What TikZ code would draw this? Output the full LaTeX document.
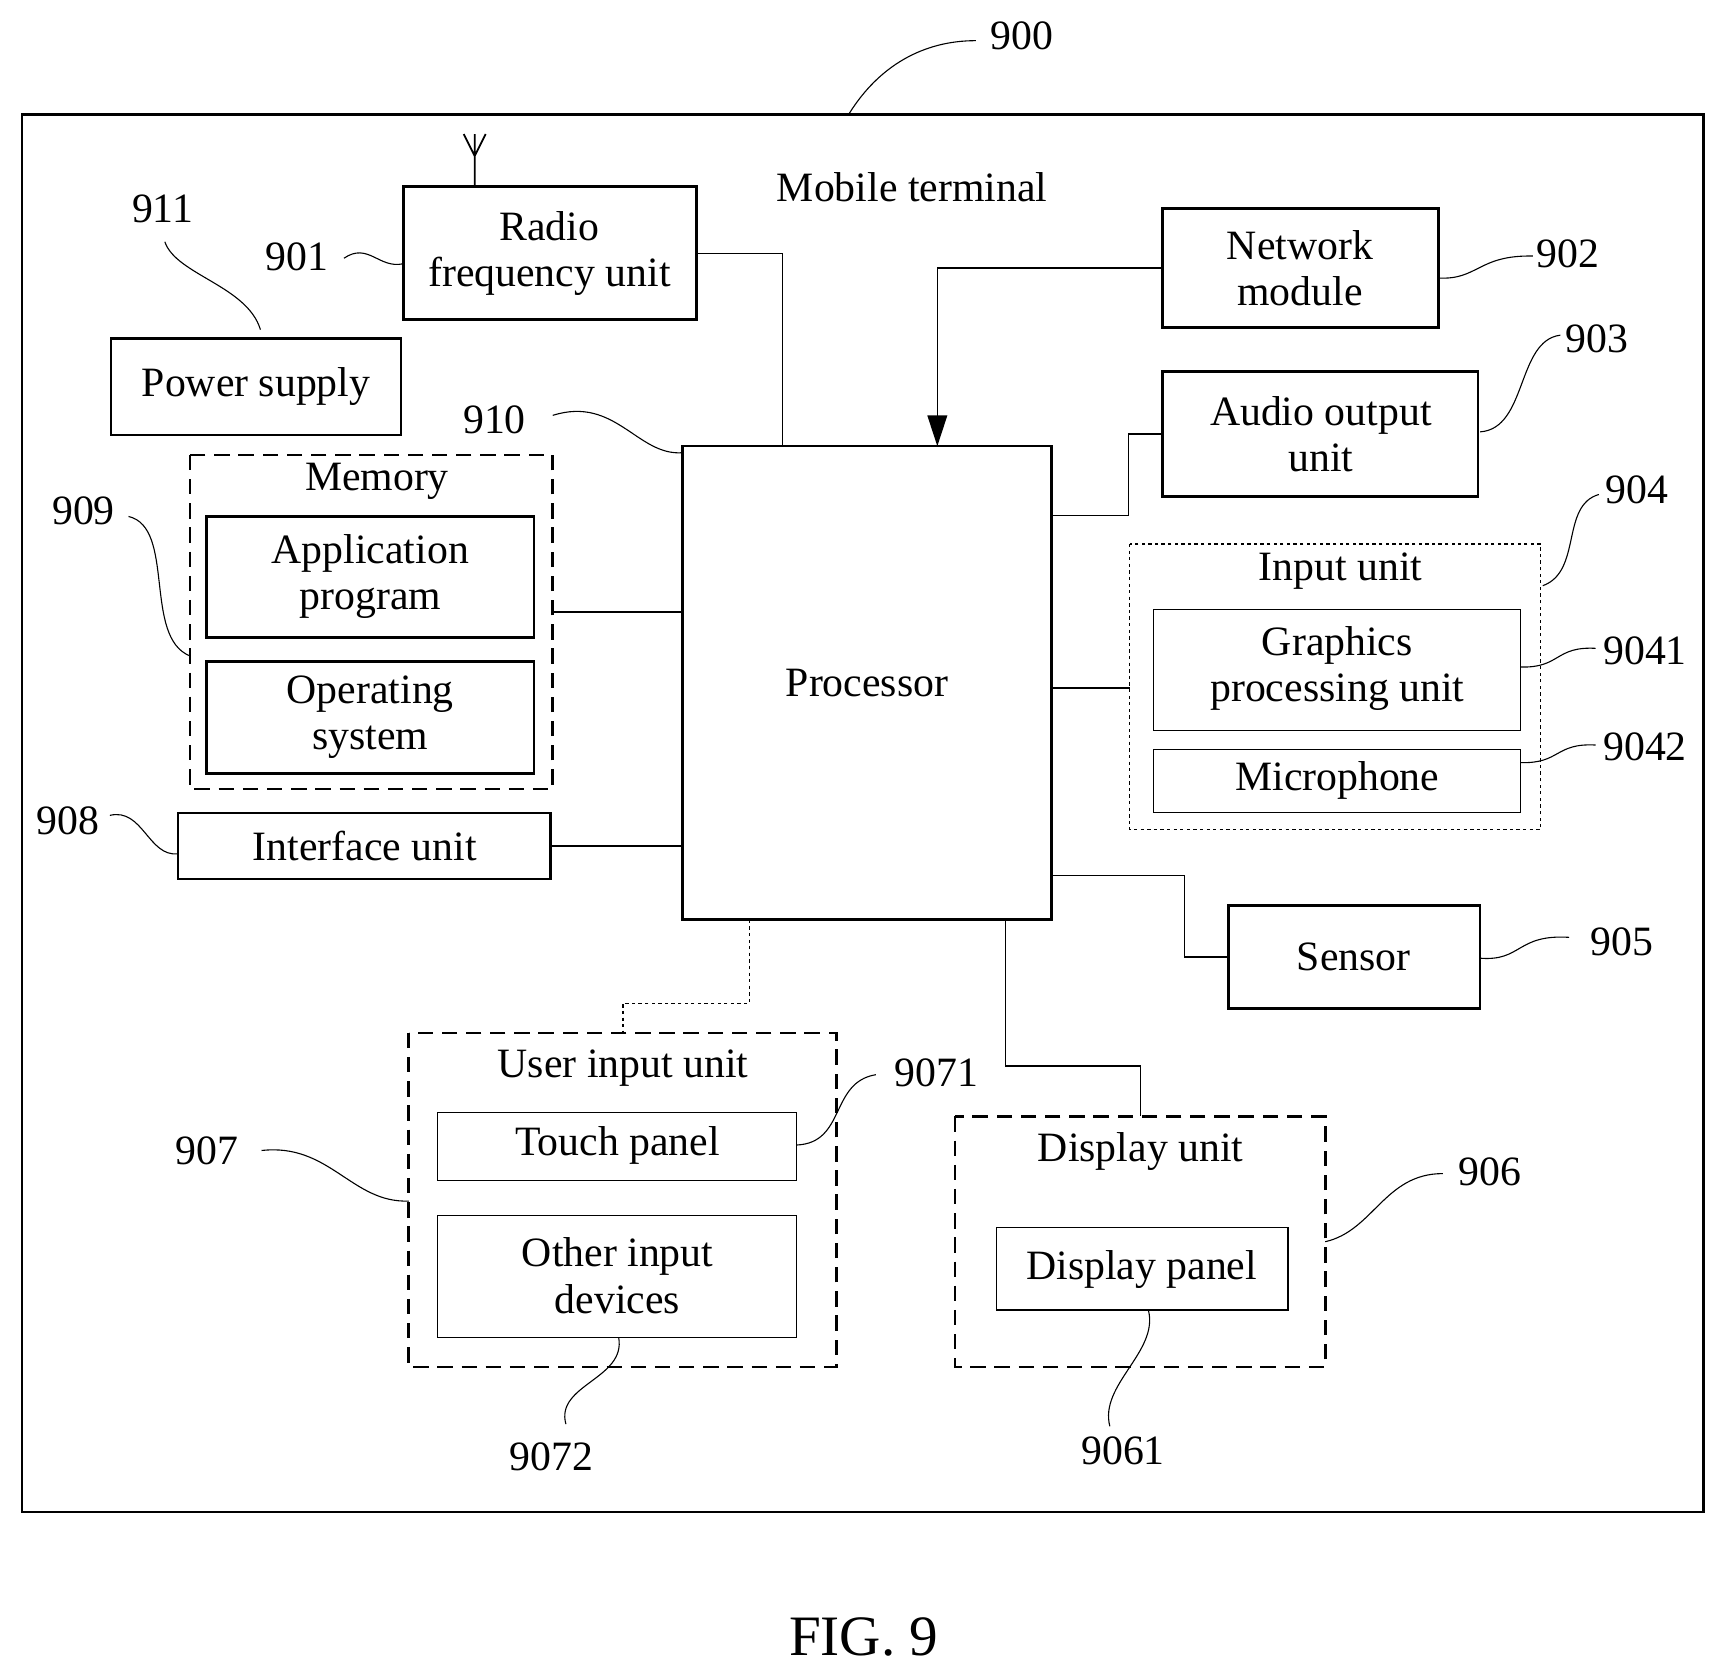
\documentclass[tikz,border=0pt]{standalone}
\usepackage{fontspec}
\setmainfont{Liberation Serif}
\usetikzlibrary{arrows.meta}
\begin{document}
\begin{tikzpicture}[x=0.5pt,y=-0.5pt,
  thinbox/.style={draw,line width=0.5pt},
  dashbox/.style={draw,line width=1.2pt,dash pattern=on 7pt off 4pt},
  dotbox/.style={draw,line width=0.6pt,dash pattern=on 1.5pt off 1.5pt},
  lbl/.style={font=\fontsize{19}{23}\selectfont,inner sep=0pt},
  txt/.style={font=\fontsize{19}{23}\selectfont,align=center,inner sep=0pt},
  lead/.style={line width=0.5pt},
  wire/.style={line width=0.6pt}]
\useasboundingbox (0,0) rectangle (1568,1526);
\draw[line width=1.2pt] (20,104) rectangle (1550,1376);
% 900
\node[lbl] (l900) at (930,33) {900};
\draw[lead] (773,103) .. controls (800,60) and (840,37) .. (888,37);
\node[txt] (mt) at (830,170) {Mobile terminal};
% RF
\draw[line width=1.2pt] (367,170) rectangle (634,291);
\node[txt] (rf) at (500,231) {Radio\\[-2pt]frequency unit};
\draw[line width=0.8pt] (432,170) -- (432,122) (432,142) -- (422,122) (432,142) -- (442,122);
\node[lbl] (l901) at (270,234) {901};
\draw[lead] (313,235) .. controls (335,220) and (345,245) .. (367,240);
\node[lbl] (l911) at (148,190) {911};
\draw[lead] (150,220) .. controls (160,250) and (225,260) .. (237,300);
% Power
\draw[line width=1.2pt] (101,308) rectangle (365,396);
\node[txt] (ps) at (233,352) {Power supply};
% processor
\draw[line width=1.2pt] (621,406) rectangle (957,837);
\node[txt] (proc) at (789,622) {Processor};
\node[lbl] (l910) at (450,382) {910};
\draw[lead] (503,378) .. controls (560,360) and (580,415) .. (621,412);
% memory
\draw[dashbox] (173,414) rectangle (503,718);
\node[txt] (mem) at (343,438) {Memory};
\draw[line width=1.2pt] (188,470) rectangle (486,580);
\node[txt] (app) at (337,525) {Application\\[-2pt]program};
\draw[line width=1.2pt] (188,602) rectangle (486,704);
\node[txt] (os) at (337,653) {Operating\\[-2pt]system};
\node[lbl] (l909) at (76,465) {909};
\draw[lead] (117,470) .. controls (160,480) and (130,580) .. (173,597);
% interface
\draw[line width=1.2pt] (162,740) rectangle (501,800);
\node[txt] (iu) at (332,770) {Interface unit};
\node[lbl] (l908) at (62,747) {908};
\draw[lead] (100,742) .. controls (130,735) and (135,780) .. (162,777);
% wires left
\draw[wire] (634,231) -- (712,231) -- (712,406);
\draw[line width=1.2pt] (503,557) -- (621,557);
\draw[wire] (501,770) -- (621,770);
% network
\draw[line width=1.2pt] (1058,190) rectangle (1309,298);
\node[txt] (nm) at (1183,244) {Network\\[-2pt]module};
\draw[wire,-{Triangle[length=14pt,width=9pt]}] (1058,244) -- (853,244) -- (853,406);
\node[lbl] (l902) at (1427,231) {902};
\draw[lead] (1309,253) .. controls (1345,255) and (1345,232) .. (1395,233);
% audio
\draw[line width=1.2pt] (1058,338) rectangle (1345,452);
\node[txt] (ao) at (1202,395) {Audio output\\[-2pt]unit};
\draw[wire] (957,469) -- (1027,469) -- (1027,395) -- (1058,395);
\node[lbl] (l903) at (1453,308) {903};
\draw[lead] (1347,393) .. controls (1390,390) and (1380,310) .. (1420,305);
% input unit
\draw[dotbox] (1028,495) rectangle (1402,755);
\node[txt] (in) at (1220,520) {Input unit};
\draw[thinbox] (1050,555) rectangle (1384,665);
\node[txt] (gpu) at (1217,608) {Graphics\\[-2pt]processing unit};
\draw[thinbox] (1050,682) rectangle (1384,739);
\node[txt] (mic) at (1217,710) {Microphone};
\draw[wire] (957,626) -- (1028,626);
\node[lbl] (l904) at (1490,446) {904};
\draw[lead] (1404,533) .. controls (1440,520) and (1420,460) .. (1455,450);
\node[lbl] (l9041) at (1497,592) {9041};
\draw[lead] (1384,607) .. controls (1420,608) and (1415,588) .. (1452,590);
\node[lbl] (l9042) at (1497,680) {9042};
\draw[lead] (1384,694) .. controls (1420,695) and (1415,676) .. (1452,678);
% sensor
\draw[line width=1.2pt] (1118,824) rectangle (1347,918);
\node[txt] (sen) at (1232,871) {Sensor};
\draw[wire] (957,797) -- (1078,797) -- (1078,871) -- (1118,871);
\node[lbl] (l905) at (1476,857) {905};
\draw[lead] (1347,872) .. controls (1385,875) and (1380,850) .. (1428,853);
% display unit
\draw[dashbox] (869,1016) rectangle (1206,1244);
\node[txt] (du) at (1038,1048) {Display unit};
\draw[wire] (907,1117) rectangle (1172,1192);
\node[txt] (dp) at (1039,1155) {Display panel};
\draw[wire] (915,837) -- (915,970) -- (1038,970) -- (1038,1016);
\node[lbl] (l906) at (1356,1066) {906};
\draw[lead] (1206,1130) .. controls (1250,1120) and (1260,1068) .. (1313,1068);
\node[lbl] (l9061) at (1022,1320) {9061};
\draw[lead] (1045,1192) .. controls (1055,1230) and (1000,1260) .. (1010,1298);
% user input
\draw[dashbox] (372,940) rectangle (761,1244);
\node[txt] (ui) at (567,972) {User input unit};
\draw[thinbox] (398,1012) rectangle (725,1074);
\node[txt] (tp) at (562,1042) {Touch panel};
\draw[thinbox] (398,1106) rectangle (725,1217);
\node[txt] (oid) at (562,1161) {Other input\\[-2pt]devices};
\draw[dotbox] (682,837) -- (682,913) -- (567,913) -- (567,940);
\node[lbl] (l9071) at (852,976) {9071};
\draw[lead] (725,1042) .. controls (770,1040) and (755,985) .. (797,978);
\node[lbl] (l907) at (188,1047) {907};
\draw[lead] (238,1047) .. controls (300,1040) and (320,1095) .. (372,1093);
\node[lbl] (l9072) at (502,1326) {9072};
\draw[lead] (563,1217) .. controls (570,1255) and (505,1260) .. (515,1296);
\node[font=\fontsize{26}{30}\selectfont] (fig) at (786,1490) {FIG. 9};
\end{tikzpicture}
\end{document}
